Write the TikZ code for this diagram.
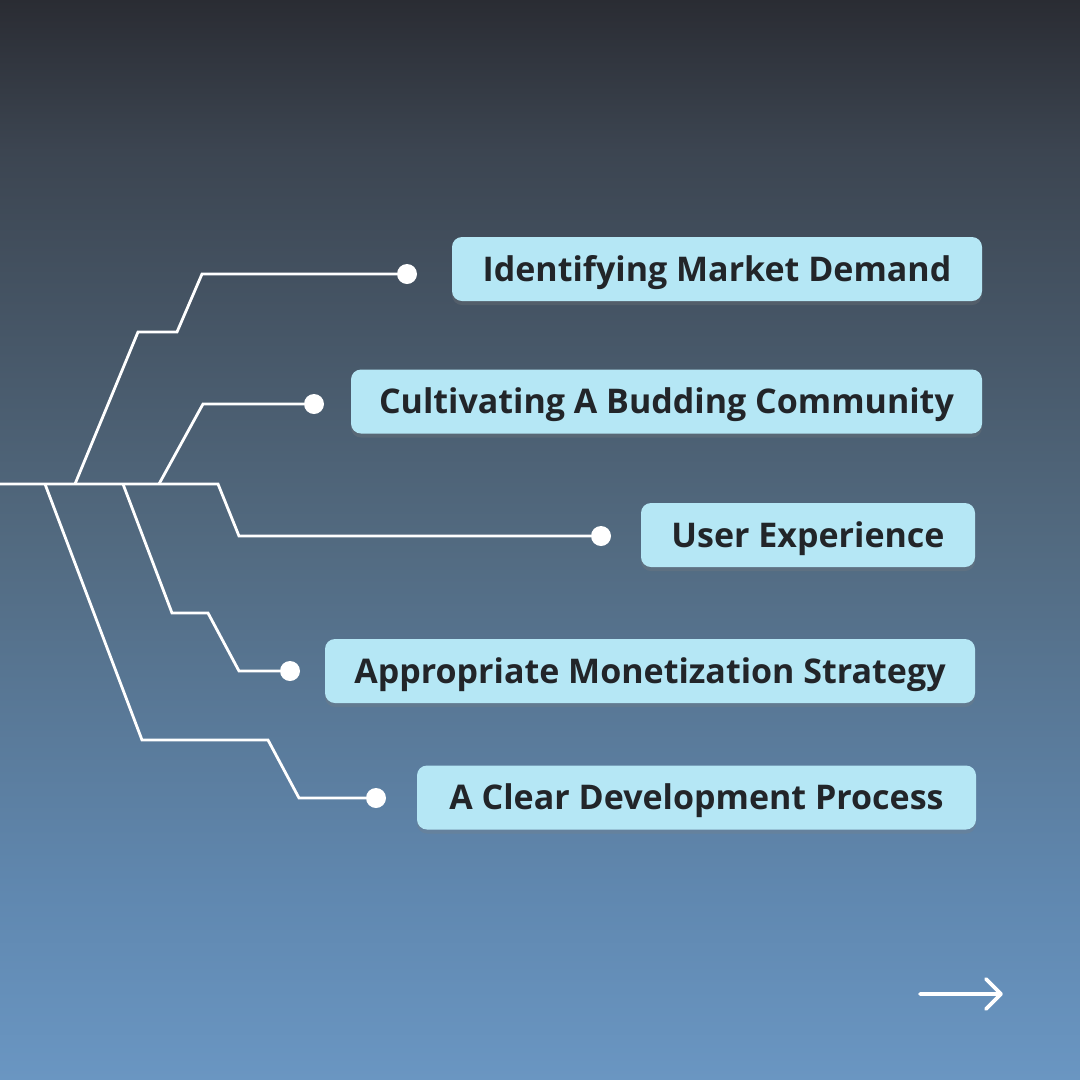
\documentclass[tikz,border=0pt]{standalone}
\usepackage{fontspec}
\setmainfont{Open Sans}
\usepackage{tikz}
\usetikzlibrary{positioning,shapes,shadows}
\definecolor{BgTop}{HTML}{2A2C33}
\definecolor{BgUpper}{HTML}{3C4551}
\definecolor{BgMid}{HTML}{526A80}
\definecolor{BgLower}{HTML}{6088B0}
\definecolor{BgBottom}{HTML}{6A96C2}
\definecolor{BoxFill}{HTML}{B5E7F5}
\definecolor{BoxText}{HTML}{222529}
\pgfdeclareverticalshading{BgShade}{100bp}{color(0bp)=(BgBottom); color(25bp)=(BgBottom); color(33.5bp)=(BgLower); color(50bp)=(BgMid); color(68bp)=(BgUpper); color(75bp)=(BgTop); color(100bp)=(BgTop)}
\tikzstyle{TopicNode}=[rectangle, fill=BoxFill, rounded corners=10pt, minimum height=64pt, inner sep=0pt, text height=24.5pt, text depth=0pt, text=BoxText, font=\fontsize{34}{40}\selectfont\bfseries, drop shadow={opacity=0.25, shadow xshift=0pt, shadow yshift=-4pt}]
\tikzstyle{DotNode}=[circle, fill=white, minimum size=20pt, inner sep=0pt]
\tikzstyle{BranchLine}=[draw=white, line width=2.8pt, line join=miter]

\begin{document}
\begin{tikzpicture}[x=1pt, y=-1pt]
    \shade [shading=BgShade] (0,0) rectangle (1080,1080);
    \useasboundingbox (0,0) rectangle (1080,1080);

    \node (demand) [TopicNode, minimum width=530pt] at (717,269) {Identifying Market Demand};
    \node (community) [TopicNode, minimum width=631pt] at (666.5,401.5) {Cultivating A Budding Community};
    \node (experience) [TopicNode, minimum width=334pt] at (808,535) {User Experience};
    \node (monetization) [TopicNode, minimum width=650pt] at (650,671) {Appropriate Monetization Strategy};
    \node (process) [TopicNode, minimum width=559pt] at (696.5,797.5) {A Clear Development Process};

    \node (DotNode01) [DotNode] at (407,274) {};
    \node (DotNode02) [DotNode] at (314,404) {};
    \node (DotNode03) [DotNode] at (601,536) {};
    \node (DotNode04) [DotNode] at (290,671) {};
    \node (DotNode05) [DotNode] at (376,798) {};

    \coordinate (root) at (0,484);
    \coordinate (fork01) at (75,484);
    \coordinate (fork02) at (159,484);
    \coordinate (fork03) at (218,484);
    \coordinate (fork04) at (123,484);
    \coordinate (fork05) at (45,484);

    \draw [BranchLine] (root) -- (fork03) -- (239,536) -- (DotNode03);
    \draw [BranchLine] (fork01) -- (138,332) -- (177,332) -- (202,274) -- (DotNode01);
    \draw [BranchLine] (fork02) -- (203,404) -- (DotNode02);
    \draw [BranchLine] (fork04) -- (172,613) -- (208,613) -- (239,671) -- (DotNode04);
    \draw [BranchLine] (fork05) -- (142,740) -- (268,740) -- (299,798) -- (DotNode05);

    \draw [white, line width=3.6pt, line cap=round, line join=round] (920,994) -- (1001,994) (986,979) -- (1001,994) -- (986,1009);
  \end{tikzpicture}
\end{document}
